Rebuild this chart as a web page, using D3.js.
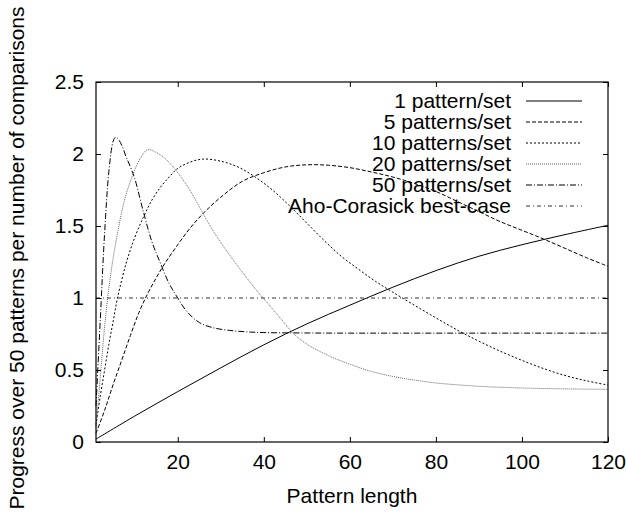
<!DOCTYPE html>
<html>
<meta charset="utf-8">
<head>
  <title>Progress per comparison</title>
</head>
<style>
body { margin: 0; background: white; }
text {
  font-family: "Liberation Sans", Arial, Helvetica, sans-serif;
  font-size: 21px;
  fill: black;
}
</style>
<body>
<div id="chart"></div>
<script src="https://d3js.org/d3.v7.min.js"></script>
<script>

var len1 = [1, 10, 20, 30, 40, 50, 60, 70, 80, 90, 100, 110, 120];
var one = [0.02, 0.18, 0.35, 0.515, 0.675, 0.82, 0.95, 1.075, 1.19, 1.29, 1.37, 1.44, 1.505];

var len5 = [1, 3, 5, 7, 9, 11, 13, 15, 17, 20, 23, 26, 30, 35, 40, 45, 50, 55, 60, 65, 70, 75, 80, 85, 90, 95, 100, 105, 110, 115, 120];
var five = [0.06, 0.22, 0.4, 0.57, 0.74, 0.9, 1.03, 1.14, 1.24, 1.37, 1.49, 1.59, 1.7, 1.81, 1.87, 1.91, 1.925, 1.922, 1.905, 1.875, 1.84, 1.795, 1.74, 1.67, 1.6, 1.53, 1.47, 1.41, 1.345, 1.28, 1.22];

var len10 = [1, 2, 3, 4, 5, 6, 8, 10, 12, 14, 16, 18, 20, 23, 26, 30, 34, 38, 42, 46, 50, 54, 58, 62, 66, 70, 75, 80, 85, 90, 95, 100, 105, 110, 115, 120];
var ten = [0.12, 0.32, 0.5, 0.68, 0.84, 1.0, 1.24, 1.42, 1.56, 1.68, 1.77, 1.84, 1.9, 1.945, 1.965, 1.95, 1.91, 1.84, 1.75, 1.64, 1.52, 1.4, 1.29, 1.2, 1.115, 1.04, 0.95, 0.862, 0.777, 0.7, 0.63, 0.567, 0.51, 0.462, 0.425, 0.395];

var len20 = [1, 2, 3, 4, 5, 6, 7, 8, 10, 11.5, 13, 15, 17, 20, 23, 26, 29, 32, 35, 38, 41, 44, 47, 50, 55, 60, 65, 70, 75, 80, 90, 100, 110, 120];
var twenty = [0.1, 0.45, 0.8, 1.07, 1.28, 1.45, 1.6, 1.72, 1.89, 1.98, 2.03, 2.01, 1.97, 1.87, 1.74, 1.58, 1.43, 1.3, 1.18, 1.065, 0.96, 0.855, 0.75, 0.68, 0.6, 0.54, 0.49, 0.455, 0.43, 0.41, 0.387, 0.375, 0.369, 0.366];

var len50 = [1, 2, 3, 4, 5, 5.5, 6, 7, 8, 9, 10, 12, 14, 16, 18, 20, 22, 25, 28, 32, 36, 40, 50, 60, 80, 100, 120];
var fifty = [0.25, 0.85, 1.45, 1.88, 2.09, 2.115, 2.11, 2.06, 1.98, 1.91, 1.83, 1.6, 1.39, 1.24, 1.1, 1.0, 0.91, 0.83, 0.795, 0.775, 0.765, 0.76, 0.757, 0.756, 0.756, 0.756, 0.756];

var lenAC = [1, 120];
var aho = [1, 1];

var names = ["1 pattern/set", "5 patterns/set", "10 patterns/set", "20 patterns/set", "50 patterns/set", "Aho-Corasick best-case"];
var xTicks = [20, 40, 60, 80, 100, 120];
var yTicks = [0, 0.5, 1, 1.5, 2, 2.5];

var series = [
  {name: names[0], x: len1, y: one, dash: null, color: "#000"},
  {name: names[1], x: len5, y: five, dash: "4,2", color: "#000"},
  {name: names[2], x: len10, y: ten, dash: "2,2", color: "#000"},
  {name: names[3], x: len20, y: twenty, dash: "1,1", color: "#666"},
  {name: names[4], x: len50, y: fifty, dash: "6,2,1,2", color: "#000"},
  {name: names[5], x: lenAC, y: aho, dash: "4,3,1,3", color: "#333"}
];

var W = 626, H = 521;
var margin = {top: 82, right: 18, bottom: 79, left: 96};

var svg = d3.select("#chart").append("svg")
  .attr("width", W)
  .attr("height", H);

var x = d3.scaleLinear().domain([1, 120]).range([margin.left, W - margin.right]);
var y = d3.scaleLinear().domain([0, 2.5]).range([H - margin.bottom, margin.top]);

// curves
var line = d3.line()
  .x(function(d) { return x(d[0]); })
  .y(function(d) { return y(d[1]); })
  .curve(d3.curveCatmullRom);

series.forEach(function(s) {
  var pts = s.x.map(function(v, i) { return [v, s.y[i]]; });
  svg.append("path")
    .datum(pts)
    .attr("d", line)
    .attr("fill", "none")
    .attr("stroke", s.color)
    .attr("stroke-width", 1)
    .attr("stroke-dasharray", s.dash);
});

// axes, ticks pointing inward and mirrored like gnuplot
svg.append("g")
  .attr("transform", "translate(0," + y(0) + ")")
  .call(d3.axisBottom(x).tickValues(xTicks).tickSizeInner(-5).tickSizeOuter(0).tickPadding(12));
svg.append("g")
  .attr("transform", "translate(0," + y(2.5) + ")")
  .call(d3.axisTop(x).tickValues(xTicks).tickSizeInner(-5).tickSizeOuter(0).tickFormat(""));
svg.append("g")
  .attr("transform", "translate(" + x(1) + ",0)")
  .call(d3.axisLeft(y).tickValues(yTicks).tickSizeInner(-5).tickSizeOuter(0).tickPadding(12)
    .tickFormat(function(d) { return d3.format("")(d); }));
svg.append("g")
  .attr("transform", "translate(" + x(120) + ",0)")
  .call(d3.axisRight(y).tickValues(yTicks).tickSizeInner(-5).tickSizeOuter(0).tickFormat(""));

svg.selectAll(".domain").remove();
svg.selectAll(".tick line").attr("stroke", "#000");
svg.selectAll(".tick text")
  .attr("font-family", null)
  .attr("font-size", null)
  .attr("fill", "#000");

svg.append("rect")
  .attr("x", x(1))
  .attr("y", y(2.5))
  .attr("width", x(120) - x(1))
  .attr("height", y(0) - y(2.5))
  .attr("fill", "none")
  .attr("stroke", "#000")
  .attr("stroke-width", 1.2);

// axis titles
svg.append("text")
  .attr("x", (x(1) + x(120)) / 2)
  .attr("y", 503)
  .attr("text-anchor", "middle")
  .text("Pattern length");

svg.append("text")
  .attr("transform", "translate(24," + 258 + ") rotate(-90)")
  .attr("text-anchor", "middle")
  .text("Progress over 50 patterns per number of comparisons");

// legend
var legend = svg.append("g");
series.forEach(function(s, i) {
  var ly = 101 + i * 21;
  legend.append("text")
    .attr("x", 511)
    .attr("y", ly)
    .attr("dy", "0.35em")
    .attr("text-anchor", "end")
    .text(s.name);
  legend.append("line")
    .attr("x1", 526)
    .attr("x2", 582)
    .attr("y1", ly)
    .attr("y2", ly)
    .attr("stroke", s.color)
    .attr("stroke-width", 1)
    .attr("stroke-dasharray", s.dash);
});

</script>
</body>
</html>
